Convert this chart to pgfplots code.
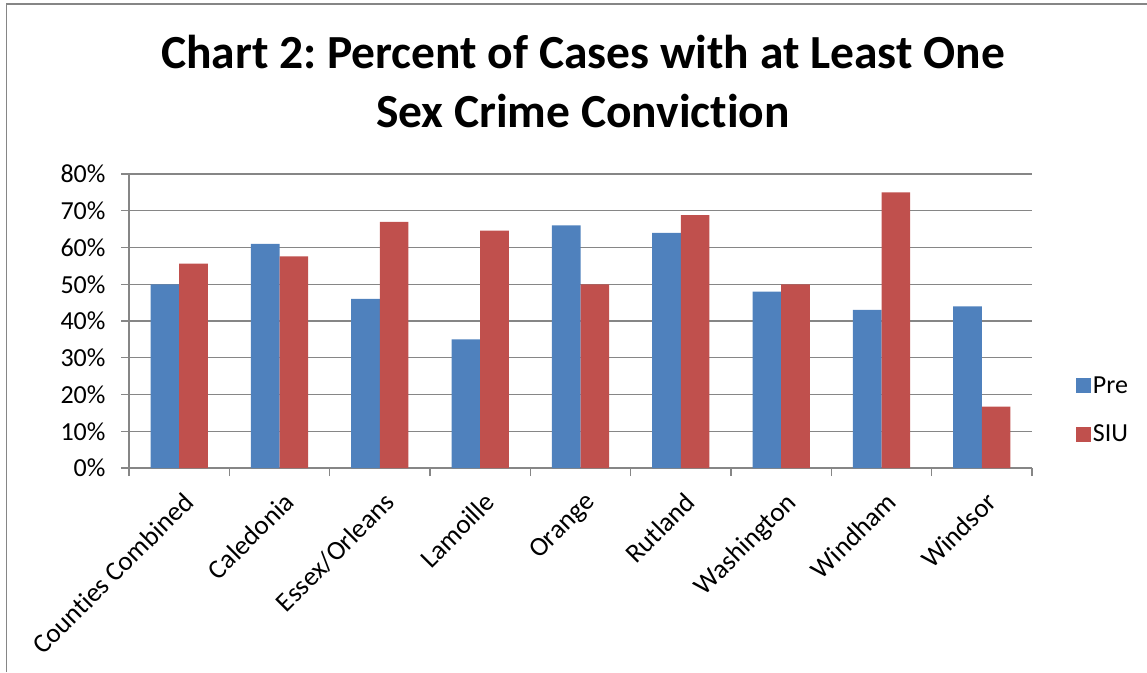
\documentclass[border=0pt]{standalone}
\usepackage{pgfplots}
\pgfplotsset{compat=1.18}
\usepackage{fontspec}
\setmainfont{Carlito}[RawFeature=-liga]
\frenchspacing
\definecolor{preblue}{HTML}{4F81BD}
\definecolor{siured}{HTML}{C0504D}
\definecolor{gridgray}{HTML}{868686}
\begin{document}
\begin{tikzpicture}[x=1pt,y=1pt]
\useasboundingbox (0,0) rectangle (1147,672);
\draw[gridgray,line width=1.5pt] (6.5,0) -- (6.5,668) -- (1147,668);
\node[anchor=base,font=\fontsize{47.5}{56}\selectfont\bfseries] at (583,603) {Chart 2: Percent of Cases with at Least One};
\node[anchor=base,font=\fontsize{47.5}{56}\selectfont\bfseries] at (583,544) {Sex Crime Conviction};
\begin{axis}[
  at={(129pt,204pt)}, anchor=south west,
  scale only axis, width=903pt, height=294pt,
  xmin=-0.5, xmax=8.5, ymin=0, ymax=80,
  ybar=0pt, bar width=28.6pt,
  xtick={0,...,8},
  xticklabels={Counties Combined,Caledonia,Essex/Orleans,Lamoille,Orange,Rutland,Washington,Windham,Windsor},
  x tick label style={rotate=45, anchor=north east, font=\fontsize{27}{32}\selectfont, xshift=-5pt, yshift=-9pt},
  minor xtick={-0.5,0.5,...,8.5},
  major x tick style={draw=none},
  minor x tick style={gridgray, line width=1.3pt},
  ytick={0,10,...,80},
  yticklabel={\pgfmathprintnumber{\tick}\%},
  y tick label style={font=\fontsize{26}{30}\selectfont, xshift=-12pt},
  /pgf/number format/assume math mode=true,
  tick align=outside,
  major tick length=8pt, minor tick length=8pt,
  ytick style={gridgray, line width=1.3pt},
  ymajorgrids, grid style={gridgray, line width=1.3pt},
  axis x line*=bottom, axis y line*=left,
  axis line style={gridgray, line width=1.3pt},
  separate axis lines,
  x axis line style={-}, y axis line style={-},
  legend style={at={(1.045,0.197)}, anchor=west, draw=none, fill=none,
    font=\fontsize{26}{30}\selectfont, row sep=26pt,
    /tikz/every even column/.append style={column sep=10pt}},
  legend cell align=left,
  legend image code/.code={\fill[#1] (0pt,-7.5pt) rectangle (15pt,7.5pt);},
  clip=false,
]
\addplot[fill=preblue, draw=none] coordinates {(0,50) (1,61) (2,46) (3,35) (4,66) (5,64) (6,48) (7,43) (8,44)};
\addplot[fill=siured, draw=none] coordinates {(0,55.6) (1,57.6) (2,67) (3,64.6) (4,50) (5,68.8) (6,50) (7,75) (8,16.7)};
\legend{Pre,SIU}
\end{axis}
\end{tikzpicture}
\end{document}
